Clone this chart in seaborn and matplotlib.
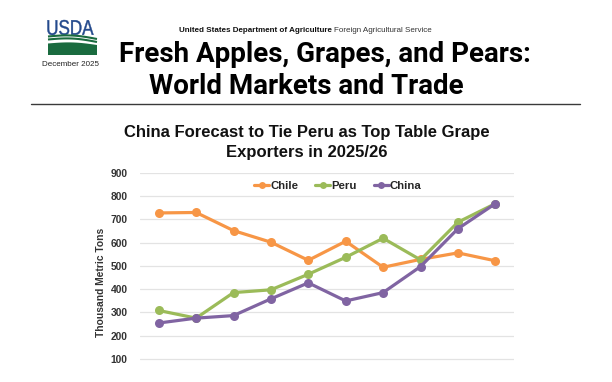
import numpy as np
import pandas as pd
import matplotlib
matplotlib.use("Agg")
import matplotlib.pyplot as plt
import seaborn as sns
from matplotlib.patches import Polygon, PathPatch
from matplotlib.textpath import TextPath
from matplotlib.font_manager import FontProperties
from matplotlib.transforms import Affine2D

years = ["2016/17", "2017/18", "2018/19", "2019/20", "2020/21",
         "2021/22", "2022/23", "2023/24", "2024/25", "2025/26"]
chile = [728, 730, 652, 602, 524, 606, 494, 528, 556, 522]
peru = [308, 275, 385, 397, 464, 537, 619, 526, 688, 768]
china = [254, 275, 286, 358, 427, 349, 385, 497, 660, 768]
countries = ["Chile", "Peru", "China"]
colors = ["#F79646", "#9BBB59", "#8064A2"]
yticks = [100, 200, 300, 400, 500, 600, 700, 800, 900]

df = pd.DataFrame({
    "Year": years * 3,
    "Country": sum([[c] * len(years) for c in countries], []),
    "Value": chile + peru + china,
})

sns.set_theme(style="white")
plt.rcParams["font.family"] = ["Liberation Sans", "DejaVu Sans"]

W, H = 612, 382
fig = plt.figure(figsize=(W / 100, H / 100), dpi=100)

def fx(px):
    return px / W

def fy(py):
    return 1 - py / H

# ---- Header / logo ----
lax = fig.add_axes([fx(44), fy(56), fx(57), (56 - 14) / H])
lax.set_xlim(0, 57)
lax.set_ylim(0, 42)
lax.axis("off")
tp = TextPath((0, 0), "USDA", size=10, prop=FontProperties(family="Liberation Sans"))
ext = tp.get_extents()
sx = 46 / ext.width
sy = 15 / ext.height
tr = Affine2D().translate(-ext.x0, -ext.y0).scale(sx, sy).translate(3.5, 21)
lax.add_patch(PathPatch(tr.transform_path(tp), color="#23498C", lw=0.3))
xs = np.linspace(4, 53, 60)
green = "#1A6B3F"
t = (xs - 4) / 49
for off in (0.0, 3.0):
    yv = 19.5 - off + 2.2 * np.sin(t * np.pi) - 2.5 * t
    lax.plot(xs, yv, color=green, lw=1.5, solid_capstyle="butt")
top = 12.5 + 1.8 * np.sin(t * np.pi) - 1.5 * t
poly = np.vstack([np.column_stack([xs, top]), [[53, 1], [4, 1]]])
lax.add_patch(Polygon(poly, closed=True, color=green, lw=0))

fig.text(fx(70), fy(64), "December 2025", ha="center", va="center",
         fontsize=5.8, color="#222222")

t1 = fig.text(fx(179), fy(30), "United States Department of Agriculture",
              ha="left", va="center", fontsize=5.8, fontweight="bold", color="#111111")
fig.canvas.draw()
bb = t1.get_window_extent()
fig.text(bb.x1 / W + fx(2), fy(30), "Foreign Agricultural Service",
         ha="left", va="center", fontsize=5.8, color="#333333")

fig.text(fx(324.5), fy(54), "Fresh Apples, Grapes, and Pears:", ha="center",
         va="center", fontsize=20, fontweight="bold", family="Roboto", color="black")
fig.text(fx(306), fy(86), "World Markets and Trade", ha="center",
         va="center", fontsize=20, fontweight="bold", family="Roboto", color="black")
fig.add_artist(plt.Line2D([fx(31), fx(580)], [fy(103.5), fy(103.5)],
                          color="#3A3A3A", lw=1.0))

# ---- Chart ----
fig.text(fx(307), fy(132), "China Forecast to Tie Peru as Top Table Grape",
         ha="center", va="center", fontsize=12, fontweight="bold", color="#111111")
fig.text(fx(307), fy(152.5), "Exporters in 2025/26",
         ha="center", va="center", fontsize=12, fontweight="bold", color="#111111")

ax = fig.add_axes([fx(140), 0, fx(514 - 140), (382 - 173) / H])
sns.lineplot(data=df, x="Year", y="Value", hue="Country", hue_order=countries,
             palette=colors, marker="o", markersize=6.5, markeredgewidth=0,
             linewidth=2.3, sort=False, ax=ax)
ax.set_ylim(0, 900)
ax.set_xlim(-0.5, len(years) - 0.5)
ax.set_yticks(yticks)
ax.set_yticklabels([str(v) for v in yticks], fontsize=7.4, fontweight="bold",
                   color="#333333")
ax.tick_params(axis="y", length=0, pad=9)
ax.tick_params(axis="x", labelbottom=False, length=0)
ax.set_xlabel("")
ax.set_ylabel("")
ax.grid(axis="y", color="#E3E3E3", lw=0.9)
ax.grid(axis="x", visible=False)
for s in ax.spines.values():
    s.set_visible(False)

fig.text(fx(101), fy(282), "Thousand Metric Tons", rotation=90, ha="center",
         va="center", fontsize=7.4, fontweight="bold", color="#333333")

leg = ax.legend(loc="center", bbox_to_anchor=((338 - 140) / 374, (382 - 186) / 209),
                ncol=3, frameon=False, handlelength=1.3, handletextpad=0.1,
                columnspacing=1.5, prop={"weight": "bold", "size": 8.2})
for line in leg.get_lines():
    line.set_linewidth(2.3)
    line.set_markersize(5)

fig.savefig("out.png", dpi=100)
